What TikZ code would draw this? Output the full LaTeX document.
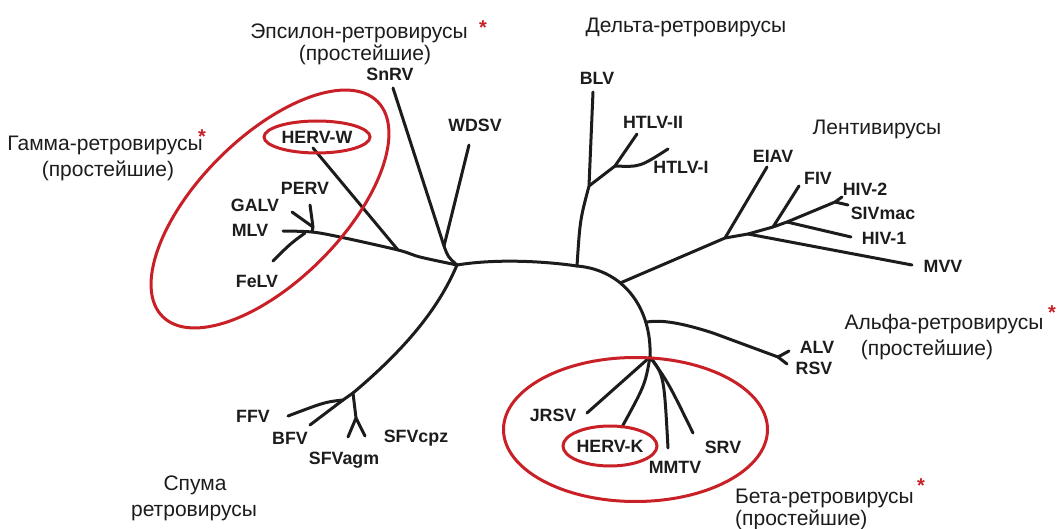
\documentclass[tikz,border=0pt]{standalone}
\usepackage{fontspec}
\setmainfont{Liberation Sans}
\definecolor{ringred}{RGB}{200,32,38}
\definecolor{ink}{RGB}{28,28,28}
\begin{document}
\begin{tikzpicture}[x=1pt,y=-1pt,
  tip/.style={font=\bfseries\fontsize{17.8}{20}\selectfont, inner sep=0pt,
    text height=12.7pt, text depth=0pt, text=ink},
  grp/.style={font=\fontsize{21}{25}\selectfont, inner sep=0pt,
    text height=15pt, text depth=0pt, text=ink},
  star/.style={font=\bfseries\fontsize{20}{24}\selectfont, inner sep=0pt, text=ringred},
  branch/.style={line width=3pt, line cap=round, line join=round, draw=ink},
  ring/.style={draw=ringred, line width=3pt}]
\useasboundingbox (0,0) rectangle (1058,529);

% ---------- junctions and branch tips ----------
\coordinate (hub) at (457,265);
% gamma
\coordinate (gHW) at (398,250);
\coordinate (gM)  at (312,232);
\coordinate (gPG) at (313,227);
\coordinate (gF)  at (305,233);
\coordinate (tMLV)   at (283,231);
\coordinate (tPERV)  at (310,205);
\coordinate (tGALV)  at (292,212);
\coordinate (tFeLV)  at (273,261);
\coordinate (tHERVW) at (313,148);
% epsilon
\coordinate (eJ)    at (444,246);
\coordinate (tSnRV) at (393,88);
\coordinate (tWDSV) at (469,145);
% delta
\coordinate (bB)  at (577,266);
\coordinate (bH)  at (589,186);
\coordinate (hF)  at (615,166);
\coordinate (tBLV)    at (593,92);
\coordinate (tHTLVii) at (637,134);
\coordinate (tHTLVi)  at (668,149);
% lenti
\coordinate (l1) at (725,238);
\coordinate (l2) at (748,234);
\coordinate (l3) at (773,227);
\coordinate (l4) at (787,222);
\coordinate (hivF) at (835,202);
\coordinate (tEIAV)  at (767,167);
\coordinate (tMVV)   at (912,265);
\coordinate (tFIV)   at (799,186);
\coordinate (tHIVi)  at (851,237);
\coordinate (tHIVii) at (842,197);
\coordinate (tSIV)   at (848,205);
% beta
\coordinate (bJ) at (650,357);
\coordinate (tJRSV)  at (587,413);
\coordinate (tHERVK) at (622,427);
\coordinate (tMMTV)  at (668,448);
\coordinate (tSRV)   at (693,433);
% alpha
\coordinate (aF)   at (778,357);
\coordinate (tALV) at (789,351);
\coordinate (tRSV) at (787,364);
% spuma
\coordinate (sJ)  at (353,393);
\coordinate (sFB) at (343,400);
\coordinate (sS)  at (356,418);
\coordinate (tFFV)    at (288,416);
\coordinate (tBFV)    at (310,425);
\coordinate (tSFVagm) at (348,437);
\coordinate (tSFVcpz) at (365,436);

% ---------- branches ----------
% gamma
\draw[branch] plot[smooth, tension=0.5] coordinates {(hub) (420,257) (gHW) (340,237) (gM) (tMLV)};
\draw[branch] (tPERV) -- (gPG) -- (gM);
\draw[branch] (tGALV) -- (gPG);
\draw[branch] (tFeLV) .. controls (290,244) .. (gF);
\draw[branch] (tHERVW) -- (gHW);
% epsilon
\draw[branch] (tSnRV) -- (eJ) .. controls (448,257) .. (hub);
\draw[branch] (tWDSV) -- (eJ);
% trunk and the arc towards the beta clade
\draw[branch] (hub) .. controls (500,258) and (550,262) .. (bB);
\draw[branch] (bB) .. controls (625,270) and (652,310) .. (bJ)
  coordinate[pos=0.36] (lA) coordinate[pos=0.74] (aA);
% delta
\draw[branch] (bB) .. controls (580,220) .. (bH) -- (tBLV);
\draw[branch] (bH) -- (hF) -- (tHTLVii);
\draw[branch] (hF) .. controls (640,167) .. (tHTLVi);
% lenti
\draw[branch] (lA) -- (l1) -- (l2) -- (l3) -- (l4) -- (hivF) -- (tHIVii);
\draw[branch] (hivF) -- (tSIV);
\draw[branch] (l1) -- (tEIAV);
\draw[branch] (l2) -- (tMVV);
\draw[branch] (l3) -- (tFIV);
\draw[branch] (l4) -- (tHIVi);
% alpha
\draw[branch] (aA) .. controls (662,319) and (685,324) .. (713,333) -- (aF);
\draw[branch] (tALV) -- (aF) -- (tRSV);
% beta
\draw[branch] (bJ) -- (tJRSV);
\draw[branch] (bJ) .. controls (645,385) .. (tHERVK);
\draw[branch] (bJ) .. controls (664,375) .. (tMMTV);
\draw[branch] (bJ) .. controls (668,382) .. (tSRV);
% spuma
\draw[branch] (hub) .. controls (440,305) and (410,345) .. (sJ);
\draw[branch] (sJ) -- (sFB) .. controls (325,402) .. (tFFV);
\draw[branch] (sFB) -- (tBFV);
\draw[branch] (sJ) -- (sS) -- (tSFVagm);
\draw[branch] (sS) -- (tSFVcpz);

% ---------- virus names ----------
\node[tip] (nSnRV)   at (390,74)  {SnRV};
\node[tip] (nWDSV)   at (475,125) {WDSV};
\node[tip] (nBLV)    at (597,78)  {BLV};
\node[tip] (nHTLVii) at (653,122) {HTLV-II};
\node[tip] (nHTLVi)  at (681,167) {HTLV-I};
\node[tip] (nEIAV)   at (773,156) {EIAV};
\node[tip] (nFIV)    at (818,178) {FIV};
\node[tip] (nHIVii)  at (865,189) {HIV-2};
\node[tip] (nSIV)    at (883,213) {SIVmac};
\node[tip] (nHIVi)   at (884,238) {HIV-1};
\node[tip] (nMVV)    at (943,266) {MVV};
\node[tip] (nALV)    at (817,347) {ALV};
\node[tip] (nRSV)    at (814,368) {RSV};
\node[tip] (nJRSV)   at (553,415) {JRSV};
\node[tip] (nHERVK)  at (610,446) {HERV-K};
\node[tip] (nMMTV)   at (675,467) {MMTV};
\node[tip] (nSRV)    at (723,447) {SRV};
\node[tip] (nFFV)    at (253,416) {FFV};
\node[tip] (nBFV)    at (290,438) {BFV};
\node[tip] (nSFVagm) at (344,458) {SFVagm};
\node[tip] (nSFVcpz) at (416,436) {SFVcpz};
\node[tip] (nHERVW)  at (317,137) {HERV-W};
\node[tip] (nPERV)   at (305,188) {PERV};
\node[tip] (nGALV)   at (255,205) {GALV};
\node[tip] (nMLV)    at (250,230) {MLV};
\node[tip] (nFeLV)   at (257,281) {FeLV};

% ---------- groups ----------
\node[grp] (gEps)  at (359,31)  {Эпсилон-ретровирусы};
\node[grp] (gEps2) at (365,53)  {(простейшие)};
\node[star] (sEps) at (483,28)  {*};
\node[grp] (gDel)  at (686,25)  {Дельта-ретровирусы};
\node[grp] (gGam)  at (105,143) {Гамма-ретровирусы};
\node[grp] (gGam2) at (108,169) {(простейшие)};
\node[star] (sGam) at (202,137) {*};
\node[grp] (gLen)  at (877,127) {Лентивирусы};
\node[grp] (gAlf)  at (944,322) {Альфа-ретровирусы};
\node[grp] (gAlf2) at (927,348) {(простейшие)};
\node[star] (sAlf) at (1052,313) {*};
\node[grp, anchor=west] (gBet)  at (735,496) {Бета-ретровирусы};
\node[grp, anchor=west] (gBet2) at (735,518) {(простейшие)};
\node[star] (sBet) at (921,486) {*};
\node[grp] (gSpu)  at (195,483) {Спума};
\node[grp] (gSpu2) at (194,509) {ретровирусы};

% ---------- clade rings ----------
\draw[ring, rotate around={45:(270,209)}] (270,209) ellipse [x radius=152pt, y radius=72pt];
\draw[ring] (nHERVW.center) ellipse [x radius=53pt, y radius=16pt];
\draw[ring] (635.5,429.5) ellipse [x radius=132pt, y radius=72pt];
\draw[ring] (nHERVK.center) ellipse [x radius=47pt, y radius=20pt];
\end{tikzpicture}
\end{document}
